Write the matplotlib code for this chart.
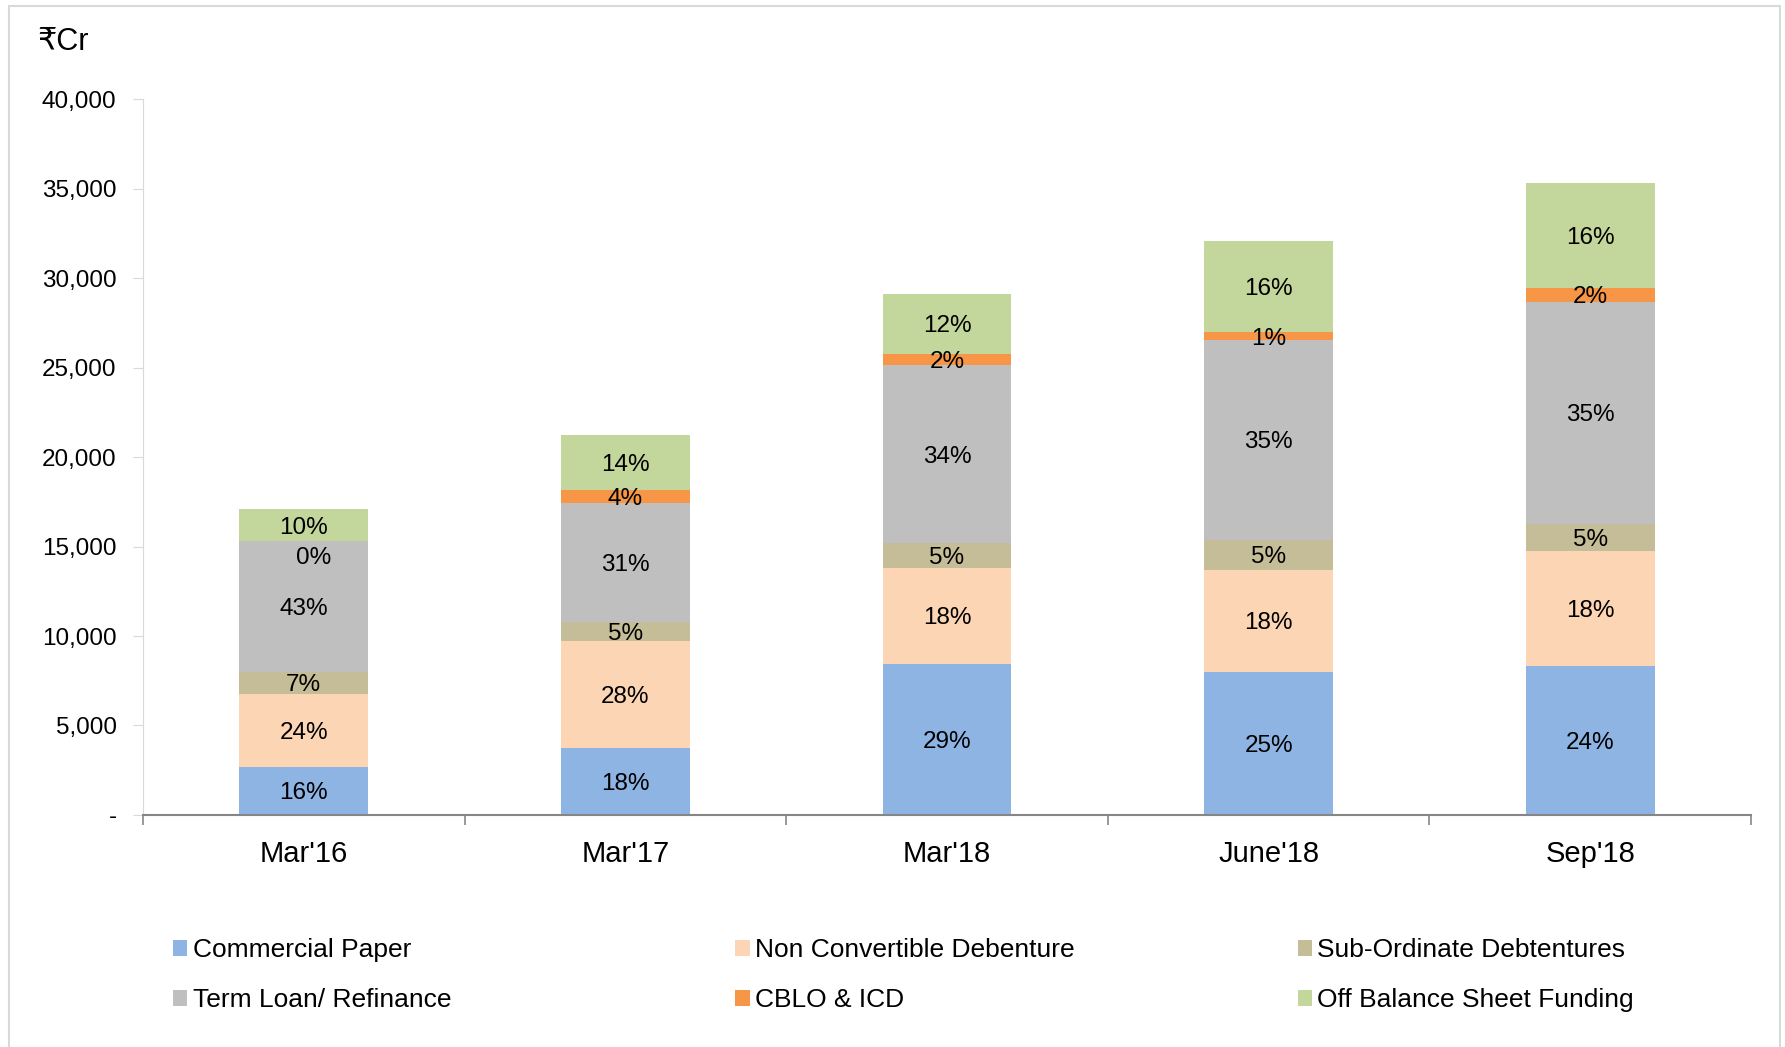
import matplotlib
matplotlib.use("Agg")
import matplotlib.pyplot as plt
from matplotlib.patches import Patch, Rectangle
from matplotlib.ticker import FuncFormatter, FixedLocator
import numpy as np

plt.rcParams["font.family"] = ["Liberation Sans", "DejaVu Sans"]

periods = ["Mar'16", "Mar'17", "Mar'18", "June'18", "Sep'18"]

# borrowing mix, Rs crore
commercial_paper = [2700, 3750, 8460, 8010, 8330]
ncd = [4070, 5980, 5340, 5660, 6420]
sub_ordinate = [1210, 1080, 1400, 1720, 1530]
term_loan = [7310, 6610, 9920, 11130, 12400]
cblo_icd = [0, 760, 640, 450, 760]
off_balance = [1780, 3050, 3370, 5090, 5850]

# share labels printed on the segments
pct_cp = [16, 18, 29, 25, 24]
pct_ncd = [24, 28, 18, 18, 18]
pct_sub = [7, 5, 5, 5, 5]
pct_tl = [43, 31, 34, 35, 35]
pct_cblo = [0, 4, 2, 1, 2]
pct_obs = [10, 14, 12, 16, 16]

series = [
    ("Commercial Paper", commercial_paper, pct_cp, "#8EB4E3"),
    ("Non Convertible Debenture", ncd, pct_ncd, "#FCD5B5"),
    ("Sub-Ordinate Debtentures", sub_ordinate, pct_sub, "#C4BD97"),
    ("Term Loan/ Refinance", term_loan, pct_tl, "#BFBFBF"),
    ("CBLO & ICD", cblo_icd, pct_cblo, "#F79646"),
    ("Off Balance Sheet Funding", off_balance, pct_obs, "#C3D69B"),
]

fig = plt.figure(figsize=(17.85, 10.47), dpi=100)
ax = fig.add_axes([0.0801, 0.2216, 0.9009, 0.6838])

# light frame round the whole chart
fig.patches.append(Rectangle((0.005, -0.01), 0.992, 1.004, transform=fig.transFigure,
                             facecolor="none", edgecolor="#D9D9D9", linewidth=1.5))

x = np.arange(len(periods))
bottom = np.zeros(len(periods))
handles = []
for name, vals, pcts, color in series:
    vals = np.array(vals, dtype=float)
    ax.bar(x, vals, width=0.4, bottom=bottom, color=color, edgecolor="none")
    for xi, b, v, p in zip(x, bottom, vals, pcts):
        if v > 0:
            ax.text(xi, b + v / 2, f"{p}%", ha="center", va="center_baseline",
                    fontsize=17.5)
        else:
            # empty segment: Excel nudges the label just under the boundary
            ax.text(xi + 0.03, b - 800, f"{p}%", ha="center", va="center_baseline",
                    fontsize=17.5)
    bottom += vals
    handles.append(Patch(facecolor=color, edgecolor="none", label=name))

ax.set_xlim(-0.5, len(periods) - 0.5)
ax.set_ylim(0, 40000)

ax.set_yticks(np.arange(0, 40001, 5000))
ax.yaxis.set_major_formatter(FuncFormatter(lambda v, _: "-" if v == 0 else f"{int(v):,}"))
ax.tick_params(axis="y", length=7, color="#D9D9D9", labelsize=17.5, pad=12)

ax.set_xticks(x)
ax.set_xticklabels(periods)
ax.xaxis.set_minor_locator(FixedLocator(np.arange(-0.5, len(periods), 1.0)))
ax.tick_params(axis="x", which="major", length=0, labelsize=21, pad=18)
ax.tick_params(axis="x", which="minor", length=7, color="#868686", width=1.2)

for side in ("top", "right"):
    ax.spines[side].set_visible(False)
ax.spines["left"].set_color("#D9D9D9")
ax.spines["bottom"].set_color("#868686")
ax.spines["bottom"].set_linewidth(1.5)

fig.text(0.021, 0.96, "\u20b9Cr", fontsize=22, ha="left", va="center")

# three legend columns, each two rows deep
col_x = [0.0969, 0.412, 0.727]
for i, cx in enumerate(col_x):
    fig.legend(handles=[handles[i], handles[i + 3]], loc="upper left",
               bbox_to_anchor=(cx, 0.104), frameon=False, fontsize=19,
               handlelength=0.55, handleheight=0.55, handletextpad=0.2,
               labelspacing=0.98, borderpad=0, borderaxespad=0)

fig.savefig("out.png", dpi=100)
